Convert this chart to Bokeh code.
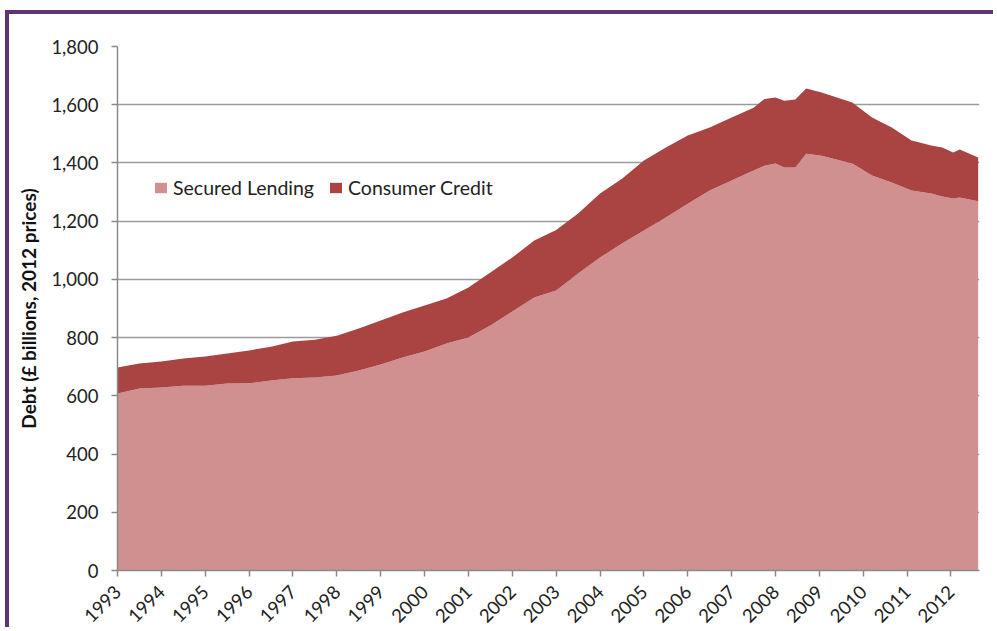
import math
from bokeh.plotting import figure
from bokeh.models import Range1d, FixedTicker, NumeralTickFormatter, ColumnDataSource
from bokeh.embed import file_html
from bokeh.resources import INLINE

# Decimal years of readings
years = [1993.00, 1993.50, 1994.00, 1994.50, 1995.00, 1995.50, 1996.00, 1996.50,
         1997.00, 1997.50, 1998.00, 1998.50, 1999.00, 1999.50, 2000.00, 2000.50,
         2001.00, 2001.50, 2002.00, 2002.50, 2003.00, 2003.50, 2004.00, 2004.50,
         2005.00, 2005.50, 2006.00, 2006.50, 2007.00, 2007.50, 2007.75, 2008.00,
         2008.20, 2008.45, 2008.70, 2009.05, 2009.75, 2010.20, 2010.65, 2011.10,
         2011.55, 2011.80, 2012.05, 2012.20, 2012.62]

# Secured lending (£ billions, 2012 prices)
secured_lending = [608, 625, 629, 635, 635, 642, 643, 653,
                   660, 663, 670, 687, 708, 732, 752, 780,
                   800, 842, 890, 938, 962, 1020, 1075, 1123,
                   1168, 1213, 1260, 1305, 1340, 1374, 1390, 1398,
                   1384, 1384, 1432, 1425, 1398, 1357, 1333, 1305,
                   1295, 1285, 1278, 1281, 1268]

# Consumer credit (£ billions, 2012 prices), stacked on top
consumer_credit = [89, 86, 89, 93, 100, 103, 113, 116,
                   127, 130, 136, 144, 151, 154, 158, 154,
                   172, 182, 185, 196, 208, 206, 220, 223,
                   240, 240, 234, 217, 216, 216, 230, 227,
                   230, 234, 224, 217, 210, 199, 189, 172,
                   165, 168, 158, 165, 151]

year_ticks = list(range(1993, 2013))
value_ticks = list(range(0, 1801, 200))
series_names = ["Secured Lending", "Consumer Credit"]
series_colors = ["#d09090", "#a94442"]

FONT = "Lato"

src = ColumnDataSource(dict(x=years, secured=secured_lending, consumer=consumer_credit))

p = figure(width=988, height=617, output_backend="svg", toolbar_location=None,
           x_range=Range1d(1993, 2012.65), y_range=Range1d(0, 1800),
           min_border_left=108, min_border_right=18, min_border_top=32,
           min_border_bottom=61, background_fill_color="white",
           border_fill_color="white")
p.styles = {"border-top": "4px solid #5b3470", "border-left": "4px solid #5b3470",
            "margin-left": "5px", "margin-top": "10px"}

p.varea_stack(stackers=["secured", "consumer"], x="x", color=series_colors,
              legend_label=series_names, source=src)

p.outline_line_color = None
p.xgrid.visible = False
p.ygrid.grid_line_color = "#9a9a9a"
p.ygrid.grid_line_width = 1.5
p.ygrid.ticker = FixedTicker(ticks=value_ticks)

p.yaxis.ticker = FixedTicker(ticks=value_ticks)
p.yaxis.formatter = NumeralTickFormatter(format="0,0")
p.xaxis.ticker = FixedTicker(ticks=year_ticks)
p.xaxis.major_label_orientation = math.pi / 4

for ax in (p.xaxis[0], p.yaxis[0]):
    ax.axis_line_color = "#8a8a8a"
    ax.axis_line_width = 1.5
    ax.major_tick_line_color = "#8a8a8a"
    ax.major_tick_line_width = 1.5
    ax.major_tick_out = 6
    ax.major_tick_in = 0
    ax.minor_tick_line_color = None
    ax.major_label_text_font = FONT
    ax.major_label_text_font_size = "18.5px"
    ax.major_label_text_color = "#222222"

p.xaxis.major_label_standoff = 12

p.yaxis.axis_label = "Debt (£ billions, 2012 prices)"
p.yaxis.axis_label_text_font = FONT
p.yaxis.axis_label_text_font_style = "bold"
p.yaxis.axis_label_text_font_size = "19px"
p.yaxis.axis_label_text_color = "#111111"
p.yaxis.axis_label_standoff = 8
p.yaxis.major_label_standoff = 13

lg = p.legend[0]
lg.location = (36, 371)
lg.orientation = "horizontal"
lg.border_line_color = None
lg.background_fill_alpha = 0
lg.label_text_font = FONT
lg.label_text_font_size = "19.5px"
lg.label_text_color = "#222222"
lg.glyph_width = 15
lg.glyph_height = 13
lg.spacing = 14
lg.label_standoff = 5
lg.padding = 4

open("out.html", "w").write(file_html(p, INLINE))
